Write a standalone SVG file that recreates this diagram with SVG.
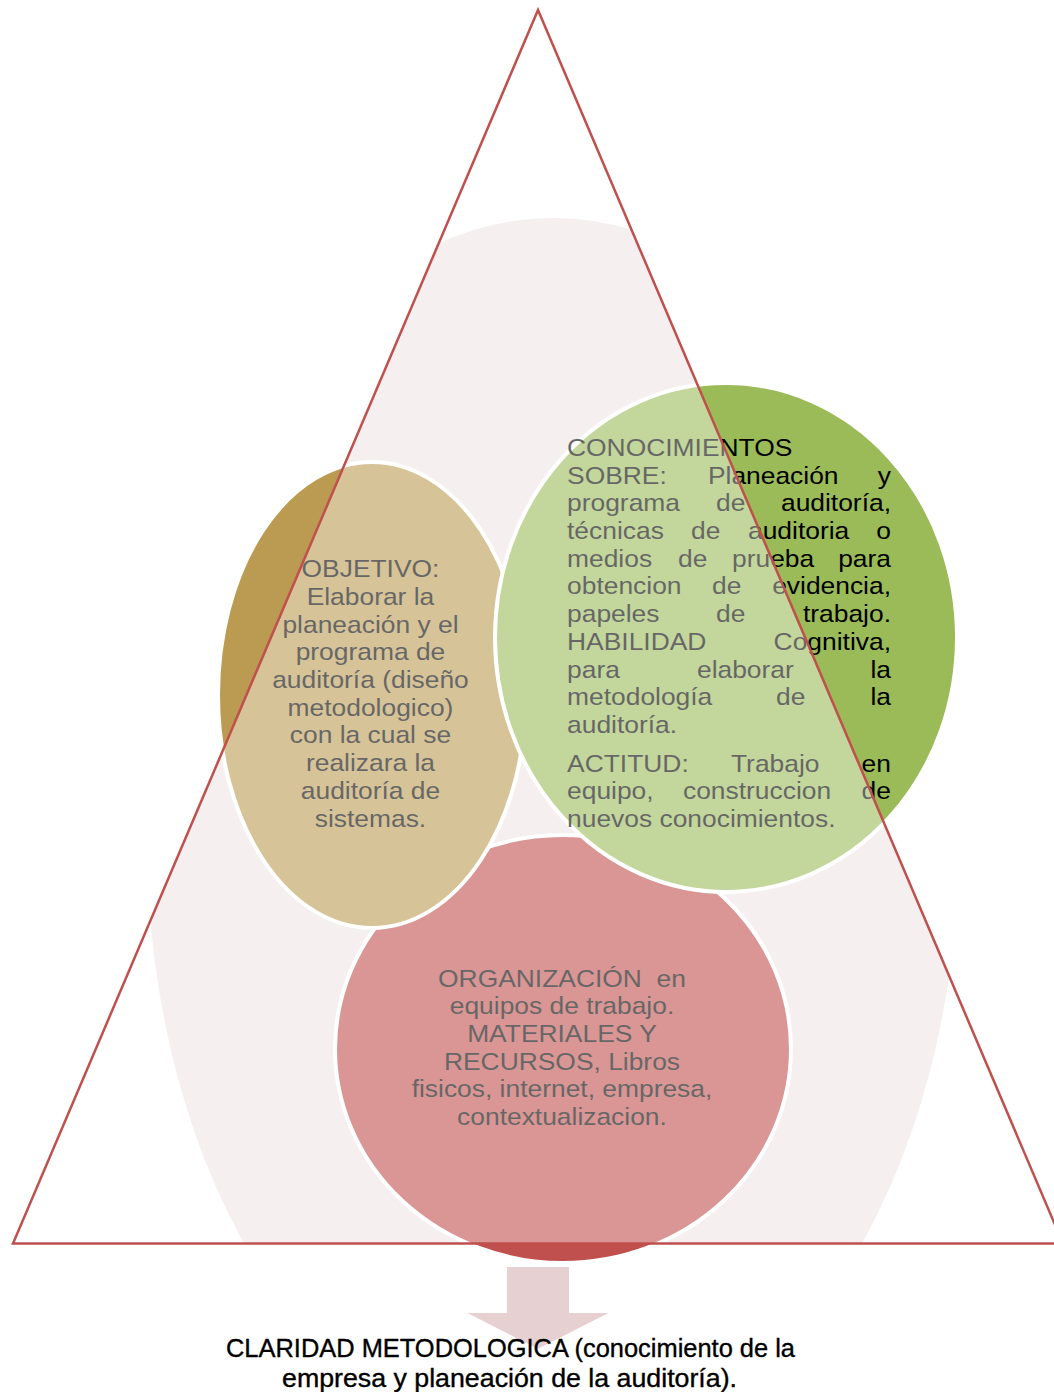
<svg xmlns="http://www.w3.org/2000/svg" width="1054" height="1392" viewBox="0 0 1054 1392">
<style>
.t{font-family:"Liberation Sans",Arial,sans-serif;font-size:24px;fill:#000}
.c{text-anchor:middle}
.e{text-anchor:end}
.node{stroke:#fff;stroke-width:4}
.foot{font-family:"Liberation Sans Narrow","Liberation Sans",Arial,sans-serif;font-size:25px;fill:#000;stroke:#000;stroke-width:0.35;text-anchor:middle}
</style>
<defs>
<clipPath id="tri"><polygon points="538,10 13,1243.5 1063,1243.5"/></clipPath>
</defs>
<rect width="1054" height="1392" fill="#fff"/>
<ellipse id="background" clip-path="url(#tri)" cx="553" cy="840" rx="406" ry="622" fill="#eee4e6"/>
<g id="connectors">
<polygon points="506,1266 570,1266 570,1312 613,1312 538,1350 463,1312 506,1312" fill="#e7d0d1" stroke="#fff" stroke-width="2"/>
</g>
<g id="organizacion">
<ellipse class="node" cx="563" cy="1049" rx="228" ry="214" fill="#c0504d"/>
<g transform="scale(1.1,1)" class="t c">
<text x="510.9" y="986.7" xml:space="preserve">ORGANIZACIÓN  en</text>
<text x="510.9" y="1014.4">equipos de trabajo.</text>
<text x="510.9" y="1042.1">MATERIALES Y</text>
<text x="510.9" y="1069.8">RECURSOS, Libros</text>
<text x="510.9" y="1097.5">fisicos, internet, empresa,</text>
<text x="510.9" y="1125.2">contextualizacion.</text>
</g>
</g>
<g id="objetivo">
<ellipse class="node" cx="372" cy="695" rx="154" ry="233" fill="#bb9b52"/>
<g transform="scale(1.1,1)" class="t c">
<text x="336.8" y="577.3">OBJETIVO:</text>
<text x="336.8" y="605">Elaborar la</text>
<text x="336.8" y="632.7">planeación y el</text>
<text x="336.8" y="660.4">programa de</text>
<text x="336.8" y="688.1">auditoría (diseño</text>
<text x="336.8" y="715.8">metodologico)</text>
<text x="336.8" y="743.5">con la cual se</text>
<text x="336.8" y="771.2">realizara la</text>
<text x="336.8" y="798.9">auditoría de</text>
<text x="336.8" y="826.6">sistemas.</text>
</g>
</g>
<g id="conocimientos">
<ellipse class="node" cx="726" cy="637.5" rx="231" ry="254.5" fill="#9bbb59"/>
<g transform="scale(1.1,1)" class="t">
<text x="515.5" y="456">CONOCIMIENTOS</text>
<text x="515.5" y="483.7">SOBRE:</text><text x="643.6" y="483.7">Planeación</text><text class="e" x="810" y="483.7">y</text>
<text x="515.5" y="511.4">programa</text><text x="650.9" y="511.4">de</text><text class="e" x="810" y="511.4">auditoría,</text>
<text x="515.5" y="539.1">técnicas</text><text x="628.2" y="539.1">de</text><text x="680" y="539.1">auditoria</text><text class="e" x="810" y="539.1">o</text>
<text x="515.5" y="566.8">medios</text><text x="616.4" y="566.8">de</text><text x="665.5" y="566.8">prueba</text><text class="e" x="810" y="566.8">para</text>
<text x="515.5" y="594.5">obtencion</text><text x="647.3" y="594.5">de</text><text class="e" x="810" y="594.5">evidencia,</text>
<text x="515.5" y="622.2">papeles</text><text x="650.9" y="622.2">de</text><text class="e" x="810" y="622.2">trabajo.</text>
<text x="515.5" y="649.9">HABILIDAD</text><text class="e" x="810" y="649.9">Cognitiva,</text>
<text x="515.5" y="677.6">para</text><text x="633.6" y="677.6">elaborar</text><text class="e" x="810" y="677.6">la</text>
<text x="515.5" y="705.3">metodología</text><text x="705.5" y="705.3">de</text><text class="e" x="810" y="705.3">la</text>
<text x="515.5" y="733">auditoría.</text>
<text x="515.5" y="771.7">ACTITUD:</text><text x="664.5" y="771.7">Trabajo</text><text class="e" x="810" y="771.7">en</text>
<text x="515.5" y="799.4">equipo,</text><text x="620.9" y="799.4">construccion</text><text class="e" x="810" y="799.4">de</text>
<text x="515.5" y="827.1">nuevos conocimientos.</text>
</g>
</g>
<g id="triangle">
<polygon points="538,10 13,1243.5 1063,1243.5" fill="#fff" fill-opacity="0.4" stroke="#c0504d" stroke-width="2.5" stroke-linejoin="miter"/>
</g>
<g id="claridad">
<text class="foot" x="510.5" y="1357" textLength="569" lengthAdjust="spacingAndGlyphs">CLARIDAD METODOLOGICA (conocimiento de la</text>
<text class="foot" x="509.5" y="1387" textLength="455" lengthAdjust="spacingAndGlyphs">empresa y planeación de la auditoría).</text>
</g>
</svg>
